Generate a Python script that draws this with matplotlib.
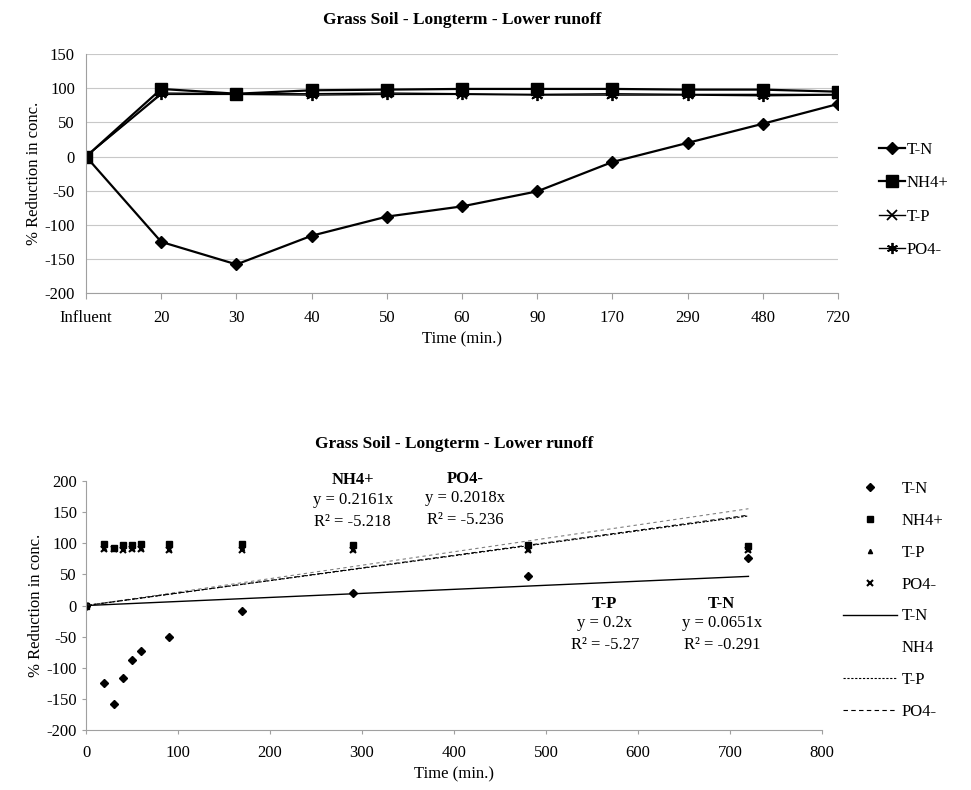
import numpy as np
import matplotlib
matplotlib.use("Agg")
import matplotlib.pyplot as plt
from matplotlib.lines import Line2D

plt.rcParams['font.family'] = ['Liberation Serif', 'DejaVu Serif']
plt.rcParams['axes.unicode_minus'] = False

# datos
cats = ["Influent", "20", "30", "40", "50", "60", "90", "170", "290", "480", "720"]
tiempo = [0, 20, 30, 40, 50, 60, 90, 170, 290, 480, 720]
tn = [0, -125, -158, -116, -88, -73, -51, -8, 20, 48, 77]
nh4 = [0, 99, 92, 97, 98, 99, 99, 99, 98, 98, 95]
tp = [0, 93, 92, 92, 93, 92, 91, 92, 91, 91, 91]
po4 = [0, 91, 91, 90, 91, 91, 90, 90, 90, 89, 90]

# pendientes de las lineas de tendencia
m_tn, m_nh4, m_tp, m_po4 = 0.0651, 0.2161, 0.2, 0.2018
r2_tn, r2_nh4, r2_tp, r2_po4 = -0.291, -5.218, -5.27, -5.236

fig = plt.figure(figsize=(9.71, 7.90), dpi=100)
gris = "#a0a0a0"

# grafica de arriba
ax1 = fig.add_axes([0.0886, 0.629, 0.7745, 0.3025])
pos = np.arange(len(cats))
ax1.plot(pos, tn, color="black", lw=1.6, marker="D", ms=6, label="T-N")
ax1.plot(pos, nh4, color="black", lw=1.6, marker="s", ms=8, label="NH4+")
ax1.plot(pos, tp, color="black", lw=1.0, marker="x", ms=7, mew=1.3, label="T-P")
ax1.plot(pos, po4, color="black", lw=1.0, marker=(6, 2, 0), ms=8, mew=1.3, label="PO4-")
ax1.set_xlim(0, len(cats) - 1)
ax1.set_ylim(-200, 150)
ax1.set_yticks(np.arange(-200, 151, 50))
ax1.set_xticks(pos)
ax1.set_xticklabels(cats)
ax1.yaxis.grid(True, color="#c8c8c8", lw=0.8)
ax1.set_axisbelow(True)
for s in ["top", "right"]:
    ax1.spines[s].set_visible(False)
ax1.spines["left"].set_color(gris)
ax1.spines["bottom"].set_color(gris)
ax1.tick_params(axis="y", length=0, labelsize=12, pad=8)
ax1.tick_params(axis="x", length=4, color=gris, labelsize=12, pad=8)
ax1.set_xlabel("Time (min.)", fontsize=12, labelpad=4)
ax1.set_ylabel("% Reduction in conc.", fontsize=12, labelpad=2)
ax1.set_title("Grass Soil - Longterm - Lower runoff", fontsize=12.5, fontweight="bold", pad=22)
ax1.legend(loc="center left", bbox_to_anchor=(1.045, 0.39), frameon=False, fontsize=12,
           handlelength=1.6, handletextpad=0.1, labelspacing=1.05, borderaxespad=0)

# grafica de abajo
ax2 = fig.add_axes([0.0886, 0.076, 0.758, 0.315])
ax2.plot(tiempo, tn, ls="none", marker="D", ms=4, color="black", label="T-N")
ax2.plot(tiempo, nh4, ls="none", marker="s", ms=5, color="black", label="NH4+")
ax2.plot(tiempo, tp, ls="none", marker="^", ms=3, color="black", label="T-P")
ax2.plot(tiempo, po4, ls="none", marker="x", ms=4, mew=1.5, color="black", label="PO4-")

xt = np.array([0, 720])
ax2.plot(xt, m_tn * xt, color="black", lw=1.0, label="T-N")
ax2.plot(xt, m_nh4 * xt, color="#808080", lw=0.8, ls=(0, (3, 3)))
ax2.plot(xt, m_tp * xt, color="black", lw=0.8, ls=(0, (2, 1.5)), label="T-P")
ax2.plot(xt, m_po4 * xt, color="black", lw=0.8, ls=(0, (4, 3)), label="PO4-")

ax2.set_xlim(0, 800)
ax2.set_ylim(-200, 200)
ax2.set_xticks(np.arange(0, 801, 100))
ax2.set_yticks(np.arange(-200, 201, 50))
for s in ["top", "right"]:
    ax2.spines[s].set_visible(False)
ax2.spines["left"].set_color(gris)
ax2.spines["bottom"].set_color(gris)
ax2.tick_params(axis="both", length=3, color=gris, labelsize=12)
ax2.tick_params(axis="x", pad=8)
ax2.set_xlabel("Time (min.)", fontsize=12, labelpad=4)
ax2.set_ylabel("% Reduction in conc.", fontsize=12, labelpad=2)
ax2.set_title("Grass Soil - Longterm - Lower runoff", fontsize=12.5, fontweight="bold", pad=24)

# etiquetas de las ecuaciones
etiquetas = [("NH4+", m_nh4, r2_nh4, 290, 201),
             ("PO4-", m_po4, r2_po4, 412, 204),
             ("T-P", m_tp, r2_tp, 564, 3),
             ("T-N", m_tn, r2_tn, 691, 3)]
for nombre, m, r2, xx, yy in etiquetas:
    ax2.annotate(nombre, (xx, yy), ha="center", va="center", fontsize=12,
                 fontweight="bold", annotation_clip=False)
    ax2.annotate("y = %gx" % m, (xx, yy), xytext=(0, -14), textcoords="offset points",
                 ha="center", va="center", fontsize=12, annotation_clip=False)
    ax2.annotate("R² = %g" % r2, (xx, yy), xytext=(0, -30), textcoords="offset points",
                 ha="center", va="center", fontsize=12, annotation_clip=False)

handles, labels = ax2.get_legend_handles_labels()
vacio = Line2D([], [], color="none")
handles = handles[:5] + [vacio] + handles[5:]
labels = labels[:5] + ["NH4"] + labels[5:]
ax2.legend(handles, labels, loc="center left", bbox_to_anchor=(1.02, 0.52), frameon=False,
           fontsize=12, handlelength=3.2, handletextpad=0.3, labelspacing=0.95, borderaxespad=0)

fig.savefig("out.png", dpi=100)
